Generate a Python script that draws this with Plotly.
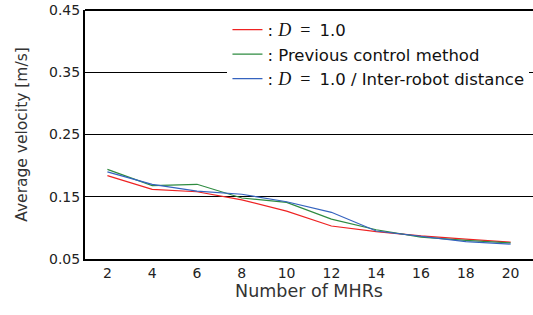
import plotly.graph_objects as go

mhrs = ["2", "4", "6", "8", "10", "12", "14", "16", "18", "20"]
d10 = [0.184, 0.162, 0.158, 0.145, 0.127, 0.103, 0.094, 0.087, 0.082, 0.077]
previous = [0.194, 0.168, 0.170, 0.148, 0.141, 0.114, 0.097, 0.085, 0.080, 0.076]
d10_dist = [0.190, 0.170, 0.159, 0.154, 0.142, 0.125, 0.095, 0.087, 0.078, 0.074]
y_ticks = [0.05, 0.15, 0.25, 0.35, 0.45]

dsym = ("<span style='font-family:\"Liberation Serif\", serif;font-size:18px'>"
        "<i>D</i>\u2002=\u2002</span>")
names = [f": {dsym}1.0", ": Previous control method", f": {dsym}1.0 / Inter-robot distance"]
colors = ["#ee2222", "#2e8b40", "#3563bf"]

fig = go.Figure()
for vals, name, col in zip([d10, previous, d10_dist], names, colors):
    fig.add_trace(go.Scatter(x=mhrs, y=vals, mode="lines", name=name,
                             line=dict(color=col, width=1.2)))

font = dict(family="DejaVu Sans", size=14, color="#222222")
fig.update_layout(
    width=533, height=315,
    margin=dict(l=85, r=0, t=10, b=56, autoexpand=False),
    paper_bgcolor="white", plot_bgcolor="white",
    font=font,
    showlegend=True,
    legend=dict(x=0.318, y=0.99, xanchor="left", yanchor="top",
                bgcolor="white", borderwidth=0,
                font=dict(family="DejaVu Sans", size=16.5, color="#111111"),
                tracegroupgap=0, itemwidth=30),
    xaxis=dict(type="category", range=[-0.5, 9.5], showgrid=False,
               showline=True, linecolor="black", linewidth=2, mirror=False,
               ticks="", title=dict(text="Number of MHRs", standoff=5,
                                    font=dict(size=17.5, color="#333333")),
               tickfont=font),
    yaxis=dict(range=[0.05, 0.45], tickvals=y_ticks, ticktext=[f"{v:.2f}" for v in y_ticks],
               showgrid=True, gridcolor="black", gridwidth=1, zeroline=False,
               showline=True, linecolor="black", linewidth=2,
               ticks="", title=dict(text="Average velocity [m/s]", standoff=18,
                                    font=dict(size=15.5, color="#333333")),
               tickfont=font),
)
fig.add_shape(type="line", xref="paper", yref="paper", x0=0, x1=1, y0=1, y1=1,
              line=dict(color="black", width=2))
fig.write_html("out.html", config={"displayModeBar": False},
               post_script="document.body.style.margin='0';document.body.style.overflow='hidden';")
